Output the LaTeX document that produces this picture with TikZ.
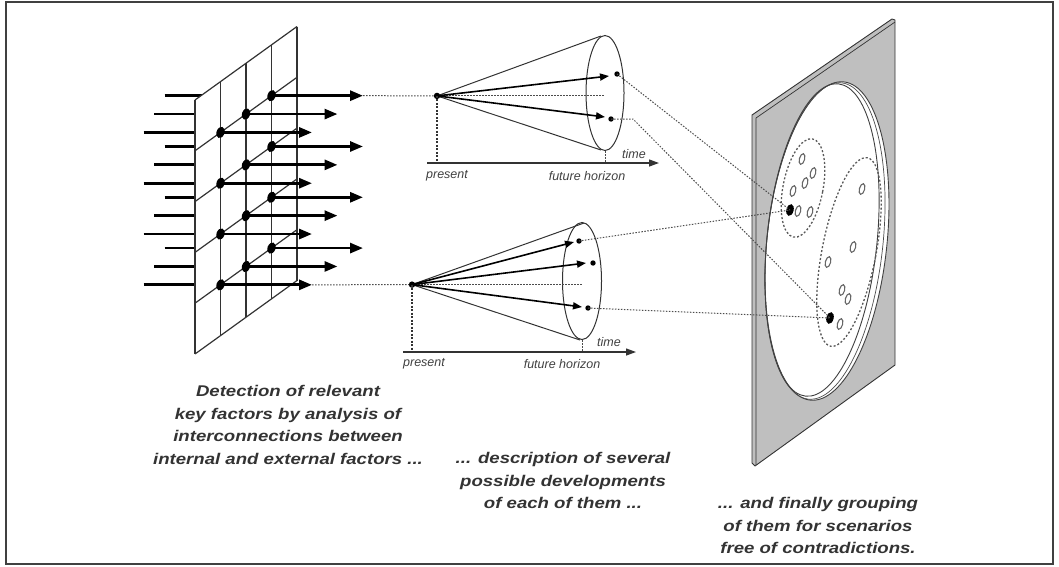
\documentclass[tikz,border=0pt]{standalone}
\usepackage{fontspec}
\setmainfont{Liberation Sans}
\newfontfamily\capfont[FakeStretch=1.2]{Liberation Sans}
\usetikzlibrary{arrows.meta,calc}
\begin{document}
\begin{tikzpicture}[x=1pt,y=-1pt,
  gridline/.style={draw=black!80, line width=1.2pt},
  fact/.style={line width=2.8pt, -{Triangle[length=13pt,width=10pt]}},
  stub/.style={line width=2.8pt},
  coneline/.style={draw=black!80, line width=1pt},
  devarrow/.style={line width=1.6pt, -{Triangle[length=9pt,width=7pt]}},
  link/.style={draw=black!70, line width=1pt, dash pattern=on 1.5pt off 1.5pt},
  vlink/.style={draw=black!80, line width=1.3pt, dash pattern=on 2pt off 1.5pt},
  axisline/.style={draw=black!80, line width=1.3pt, -{Triangle[length=10pt,width=7pt]}},
  small/.style={font=\itshape\fontsize{12.5}{14}\selectfont, text=black!75},
  capt/.style={font=\capfont\bfseries\itshape\fontsize{15.5}{22.5}\selectfont, text=black!80, align=center},
  seed/.style={draw=black!60, line width=1.1pt},
  group/.style={draw=black!65, line width=1.3pt, dash pattern=on 2pt off 2pt},
]
\useasboundingbox (0,0) rectangle (1059,566);
% frame
\draw[black!75, line width=1.3pt] (6,2) rectangle (1053,564);

% ---------- grid of factors ----------
\foreach \r in {1,...,4}{
  \foreach \c in {1,2,3}{
    \coordinate (d\r\c) at (195+25.5*\c, 100+50.8*\r-18.375*\c);
    \draw[stub] ($(d\r\c)+(-62-15*\c,0)$) -- (d\r\c);
  }
}
\fill[white] (195,100) -- (297,26.5) -- (297,280.5) -- (195,354) -- cycle;
\foreach \c in {0,...,4}
  \draw[gridline] (195+25.5*\c, 100-18.375*\c) -- (195+25.5*\c, 354-18.375*\c);
\foreach \r in {0,...,5}
  \draw[gridline] (195, 100+50.8*\r) -- (297, 26.5+50.8*\r);
\foreach \r in {1,...,4}{
  \foreach \c in {1,2,3}{
    \fill[rotate around={-20:(d\r\c)}] (d\r\c) ellipse (4pt and 5.8pt);
    \draw[fact] (d\r\c) -- ++(91.5,0);
  }
}
\coordinate (tipT) at ($(d13)+(91.5,0)$);
\coordinate (tipB) at ($(d41)+(91.5,0)$);

% ---------- top cone ----------
\coordinate (apexT) at (437,95.9);
\coordinate (ellT) at (605,93);
\draw[link] (tipT) -- (apexT);
\draw[coneline] (ellT) ellipse (19pt and 57.5pt);
\draw[coneline] (apexT) -- (601,36);
\draw[coneline] (apexT) -- (601,150);
\draw[link] (apexT) -- (605,95.9);
\coordinate (dT1) at (617,74);
\coordinate (dT2) at (611,119);
\draw[devarrow] (apexT) -- (609,76);
\draw[devarrow] (apexT) -- (605,117);
\fill (dT1) circle (2.7pt);
\fill (dT2) circle (2.7pt);
\fill (apexT) circle (3.2pt);
\draw[vlink] (apexT) -- (437,163);
\draw[axisline] (427,163) -- (659,163);
\draw[link] (605,151) -- (605,163);
\node[small] (timeT) at (634,154) {time};
\node[small] (presT) at (447,176) {present};
\node[small] (futT) at (587,176) {future horizon};

% ---------- bottom cone ----------
\coordinate (apexB) at (412,284.6);
\coordinate (ellB) at (582,281);
\draw[link] (tipB) -- (apexB);
\draw[coneline] (ellB) ellipse (19.5pt and 58.5pt);
\draw[coneline] (apexB) -- (584,223);
\draw[coneline] (apexB) -- (580,340);
\draw[link] (apexB) -- (582,284.6);
\coordinate (dB1) at (579,241);
\coordinate (dB2) at (593,263);
\coordinate (dB3) at (588,308);
\draw[devarrow] (apexB) -- (574,242);
\draw[devarrow] (apexB) -- (586,263);
\draw[devarrow] (apexB) -- (582,307);
\fill (dB1) circle (2.7pt);
\fill (dB2) circle (2.7pt);
\fill (dB3) circle (2.7pt);
\fill (apexB) circle (3.2pt);
\draw[vlink] (apexB) -- (412,352);
\draw[axisline] (403,352) -- (636,352);
\draw[link] (582,340) -- (582,352);
\node[small] (timeB) at (609,342) {time};
\node[small] (presB) at (424,364) {present};
\node[small] (futB) at (562,364) {future horizon};

% ---------- plate ----------
\fill[black!25] (752,115) -- (892,19) -- (895,20) -- (895,365) -- (755,466) -- (752,463) -- cycle;
\draw[black!80, line width=0.9pt, line join=round] (752,115) -- (892,19) -- (895,20) -- (895,365) -- (755,466) -- (752,463) -- cycle;
\draw[black!80, line width=0.7pt] (895,22) -- (756,118) -- (756,465);
\draw[black!75, line width=0.9pt, fill=white, rotate around={-6:(827,241)}] (827,241) ellipse (60pt and 160pt);
\draw[black!70, line width=0.7pt, rotate around={-6:(825,241)}] (825,241) ellipse (58pt and 159pt);
\draw[black!75, line width=0.9pt, rotate around={-6:(822,240)}] (822,240) ellipse (55pt and 157pt);

\draw[group, rotate around={-11:(803,188)}] (803,188) ellipse (20pt and 50pt);
\draw[group, rotate around={-11:(849,252)}] (849,252) ellipse (27pt and 96pt);

\foreach \p in {(802,159),(813,173),(805,183),(793,191),(798,211),(810,212),
                (862,189),(853,247),(828,262),(842,290),(848,299),(840,324)}
  \draw[seed, rotate around={-15:\p}] \p ellipse (2.6pt and 5.5pt);

\coordinate (dotA) at (790,210);
\coordinate (dotB) at (830,318);
\fill[rotate around={-15:(dotA)}] (dotA) ellipse (3.6pt and 6pt);
\fill[rotate around={-15:(dotB)}] (dotB) ellipse (3.6pt and 6pt);

% links to plate
\draw[link] (dT1) -- (dotA);
\draw[link] (dT2) -- (633,119) -- (dotB);
\draw[link] (dB1) -- (dotA);
\draw[link] (dB3) -- (dotB);

% ---------- captions ----------
\node[capt, anchor=north] (cap1) at (288,382) {Detection of relevant\\key factors by analysis of\\interconnections between\\internal and external factors ...};
\node[capt, anchor=north] (cap2) at (563,449) {... description of several\\possible developments\\of each of them ...};
\node[capt, anchor=north] (cap3) at (818,494) {... and finally grouping\\of them for scenarios\\free of contradictions.};
\end{tikzpicture}
\end{document}
